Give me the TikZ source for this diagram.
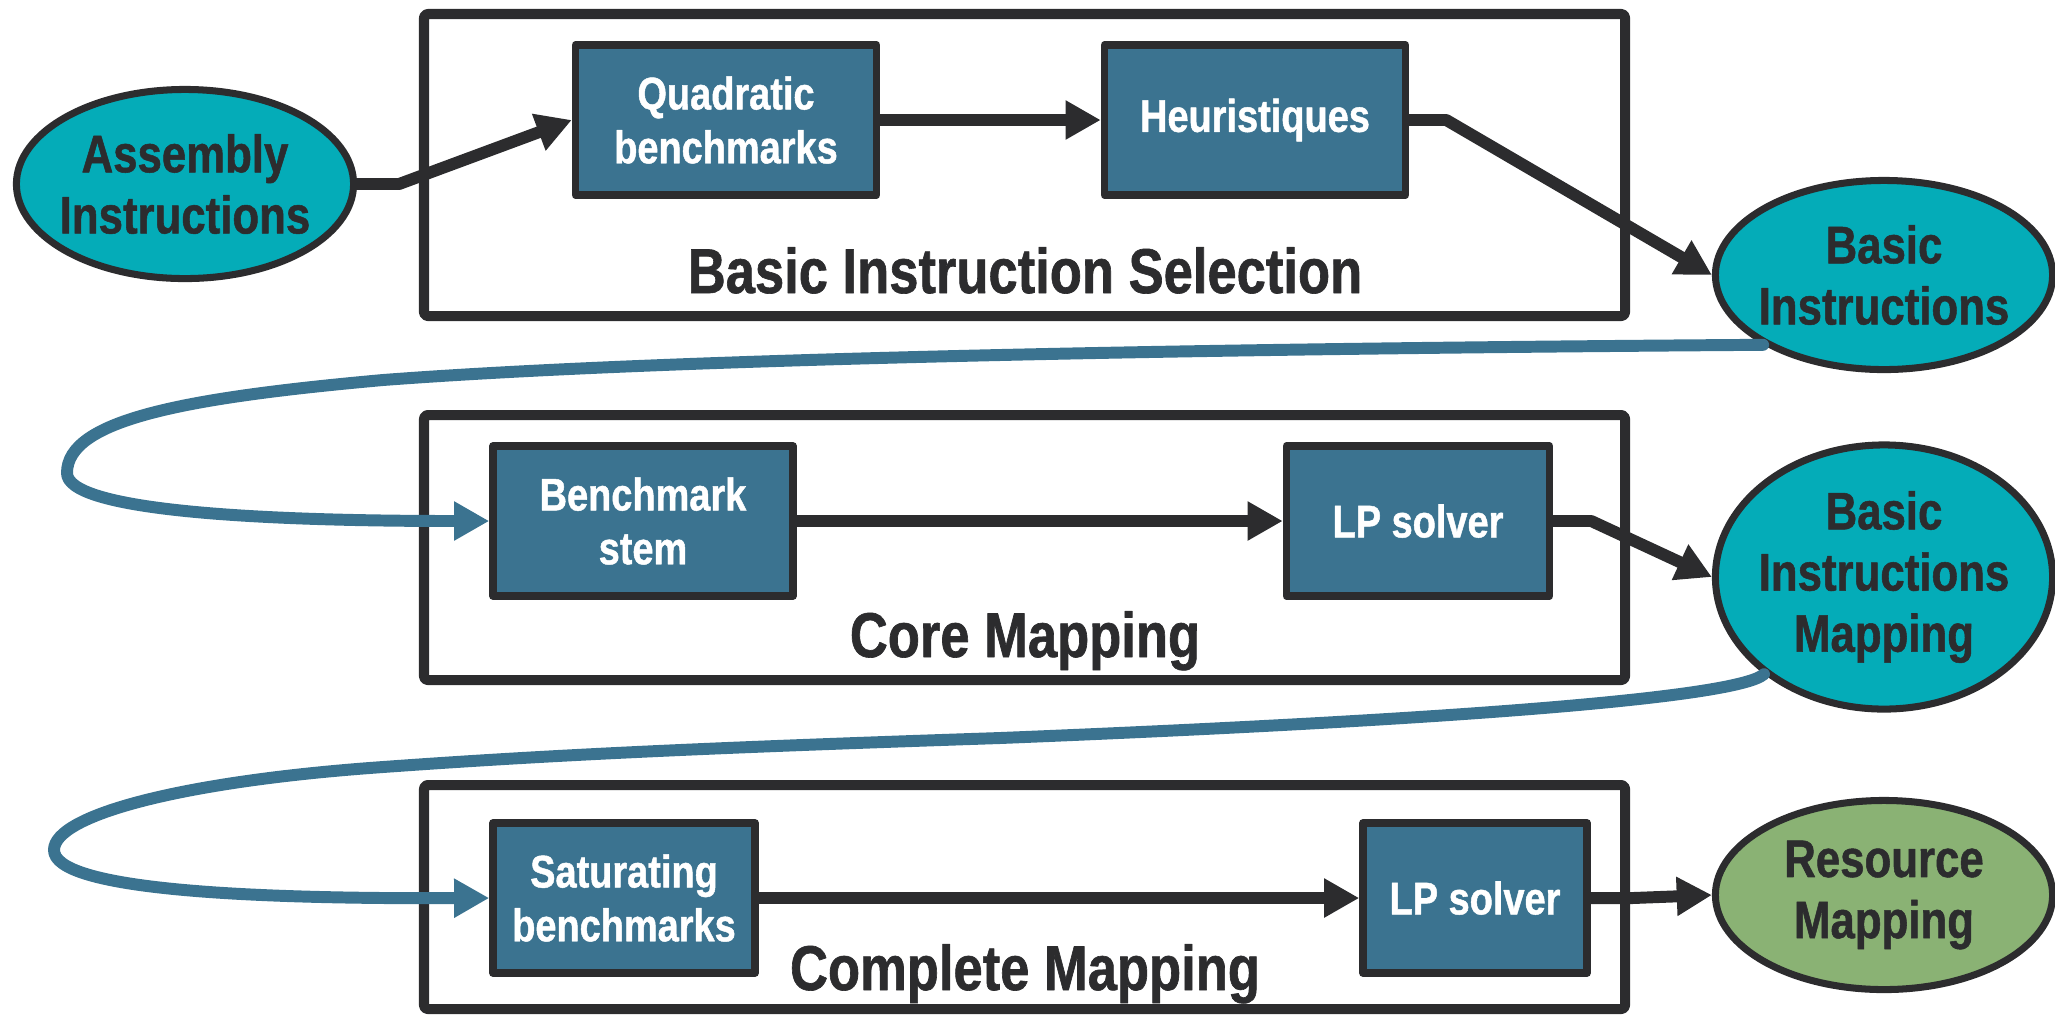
\documentclass[tikz,border=0pt]{standalone}
\usepackage{fontspec}
\setmainfont{Liberation Sans}[FakeStretch=0.83,FakeBold=1]
\usetikzlibrary{arrows.meta,shapes.geometric}

\definecolor{inkdark}{HTML}{2C2C2E}
\definecolor{boxfill}{HTML}{3B7390}
\definecolor{ovalfill}{HTML}{04ACB8}
\definecolor{greenfill}{HTML}{8AB274}

\begin{document}
\begin{tikzpicture}[
  x=0.01cm,
  y=-0.01cm,
  line cap=round,
  line join=round,
  stage/.style={draw=inkdark,line width=2.85pt,rounded corners=1pt},
  block/.style={
    draw=inkdark,
    fill=boxfill,
    line width=2.1pt,
    text=white,
    font=\bfseries\fontsize{13}{15.3}\selectfont,
    align=center,
    minimum height=1.5cm,
    inner sep=0pt
  },
  oval/.style={
    ellipse,
    draw=inkdark,
    fill=ovalfill,
    line width=2pt,
    text=inkdark,
    font=\bfseries\fontsize{15}{17.4}\selectfont,
    align=center,
    minimum width=3.37cm,
    minimum height=1.89cm,
    inner xsep=-0.2cm,
    inner ysep=0pt
  },
  title/.style={text=inkdark,font=\bfseries\fontsize{18}{20}\selectfont,anchor=base},
  flow/.style={draw=inkdark,line width=3.4pt,-{Triangle[length=10pt,width=10.5pt]}},
  back/.style={draw=boxfill,line width=3.4pt,-{Triangle[length=10pt,width=10.5pt]}}
]
  \useasboundingbox (0,0) rectangle (2055,1014);

  % Рамки этапов
  \draw[stage] (424,14) rectangle (1625,316);
  \draw[stage] (424,415) rectangle (1625,680);
  \draw[stage] (424,785) rectangle (1625,1009);

  \node[title] (selname) at (1025,293) {Basic Instruction Selection};
  \node[title] (corename) at (1025,657) {Core Mapping};
  \node[title] (fullname) at (1025,990) {Complete Mapping};

  % Овалы
  \node[oval] (asm) at (185,184) {Assembly\\Instructions};
  \node[oval] (basic) at (1884,275) {Basic\\Instructions};
  \node[oval,minimum height=2.64cm] (basicmap) at (1884,577)
    {Basic\\Instructions\\Mapping};
  \node[oval,fill=greenfill] (resmap) at (1884,895) {Resource\\Mapping};

  % Блоки
  \node[block,minimum width=3.01cm] (quad) at (726,120) {Quadratic\\benchmarks};
  \node[block,minimum width=3.01cm] (heur) at (1255,120) {Heuristiques};
  \node[block,minimum width=3.0cm] (stem) at (643,521) {Benchmark\\stem};
  \node[block,minimum width=2.63cm] (lpcore) at (1418,521) {LP solver};
  \node[block,minimum width=2.62cm] (satur) at (624,898) {Saturating\\benchmarks};
  \node[block,minimum width=2.24cm] (lpfull) at (1475,898) {LP solver};

  % Стрелки
  \draw[flow] (asm.east) -- ++(42,0) -- (quad.west);
  \draw[flow] (quad.east) -- (heur.west);
  \draw[flow] (heur.east) -- ++(37,0) -- (basic.west);
  \draw[flow] (stem.east) -- (lpcore.west);
  \draw[flow] (lpcore.east) -- ++(38,0) -- (basicmap.west);
  \draw[flow] (satur.east) -- (lpfull.west);
  \draw[flow] (lpfull.east) -- ++(42,0) -- (resmap.west);

  % Возвраты
  \draw[back]
    (basic.210)
    .. controls (1300,348) and (700,356) .. (383,380)
    .. controls (183,398) and (67,420) .. (67,473)
    .. controls (67,510) and (250,521) .. (stem.west);

  \draw[back]
    (basicmap.219)
    .. controls (1735,700) and (1400,722) .. (1000,738)
    .. controls (700,748) and (550,755) .. (383,767)
    .. controls (183,781) and (54,815) .. (54,850)
    .. controls (54,890) and (250,899) .. (satur.west);
\end{tikzpicture}
\end{document}
